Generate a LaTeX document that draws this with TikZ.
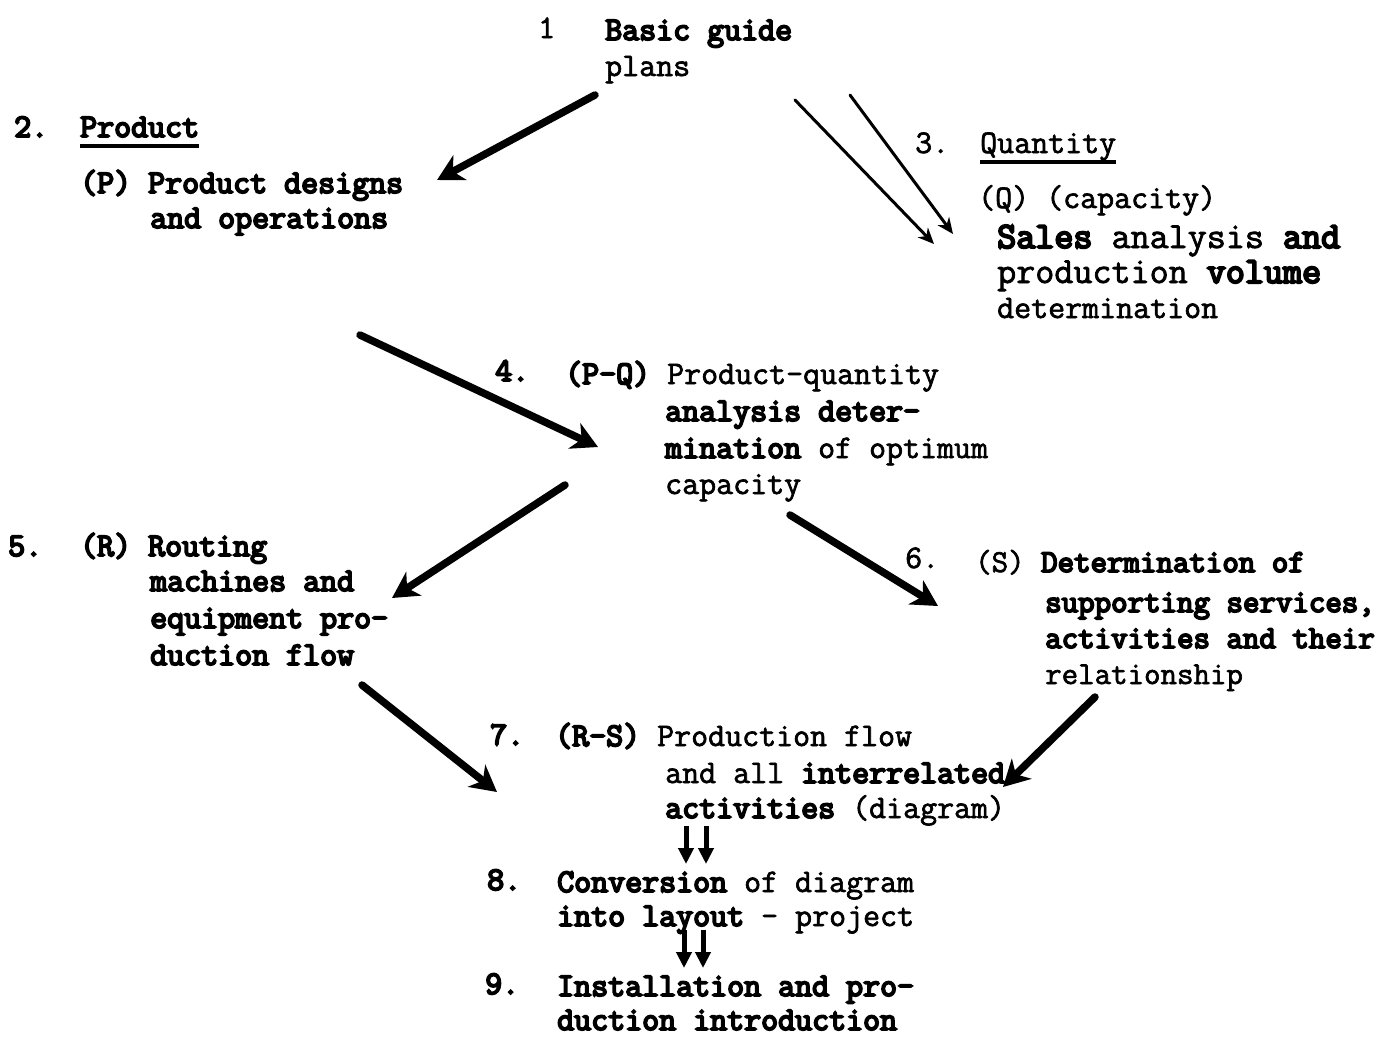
\documentclass[tikz,border=0pt]{standalone}
\usepackage{fontspec}
\newfontfamily\twbold{Latin Modern Mono}[FakeBold=5.5]
\newfontfamily\twreg{Latin Modern Mono}[FakeBold=2]
\usetikzlibrary{arrows.meta}
\begin{document}
\begin{tikzpicture}[x=1pt,y=-1pt,
  txt/.style={anchor=base west,inner sep=0pt,font=\fontsize{33}{36}\selectfont\twbold},
  txtr/.style={anchor=base west,inner sep=0pt,font=\fontsize{33}{36}\selectfont\twreg},
  txtw/.style={anchor=base west,inner sep=0pt,font=\fontsize{37}{36}\selectfont\twbold},
  txtn/.style={anchor=base west,inner sep=0pt,font=\fontsize{32}{36}\selectfont\twbold},
  heavy/.style={line width=7.5pt,line cap=round,-{Stealth[length=26pt,width=28pt,inset=8pt]}},
  light/.style={line width=3pt,line cap=round,-{Stealth[length=16pt,width=14pt,inset=5pt]}},
  dbl/.style={line width=5pt,-{Triangle[length=16pt,width=15pt]}},
  uline/.style={line width=3.5pt}]
\useasboundingbox (0,0) rectangle (1385,1037);
\fill[white] (0,0) rectangle (1385,1037);

% 1
\node[txtr] (n1num) at (538,38) {1};
\node[txt] (n1a) at (605,40) {Basic guide};
\node[txtr] (n1b) at (605,76) {plans};

% 2
\node[txt] (n2num) at (14,137) {2.};
\node[txt] (n2h) at (80,137) {Product};
\draw[uline] ([yshift=-9pt]n2h.base west) -- ([yshift=-9pt]n2h.base east);
\node[txt] (n2a) at (80,193) {(P) Product designs};
\node[txt] (n2b) at (150,228) {and operations};

% 3
\node[txtr] (n3num) at (915,153) {3.};
\node[txtr] (n3h) at (980,153) {Quantity};
\draw[uline] ([yshift=-9pt]n3h.base west) -- ([yshift=-9pt]n3h.base east);
\node[txtr] (n3a) at (978,208) {(Q) (capacity)};
\node[txtw] (n3b) at (997,248) {Sales {\twreg analysis} and};
\node[txtw] (n3c) at (997,283) {{\twreg production} volume};
\node[txtr] (n3d) at (997,318) {determination};

% 4
\node[txt] (n4num) at (495,381) {4.};
\node[txt] (n4a) at (565,384) {(P-Q) {\twreg Product-quantity}};
\node[txt] (n4b) at (665,421) {analysis  deter-};
\node[txt] (n4c) at (665,458) {mination {\twreg of optimum}};
\node[txtr] (n4d) at (665,494) {capacity};

% 5
\node[txt] (n5num) at (8,556) {5.};
\node[txt] (n5a) at (80,556) {(R) Routing};
\node[txt] (n5b) at (150,591) {machines and};
\node[txt] (n5c) at (150,628) {equipment  pro-};
\node[txt] (n5d) at (150,665) {duction flow};

% 6
\node[txtr] (n6num) at (905,568) {6.};
\node[txtn] (n6a) at (975,572) {{\twreg (S)} Determination of};
\node[txtn] (n6b) at (1045,612) {supporting services,};
\node[txtn] (n6c) at (1045,648) {activities and their};
\node[txtr,font=\fontsize{32}{36}\selectfont\twreg] (n6d) at (1045,684) {relationship};

% 7
\node[txt] (n7num) at (490,745) {7.};
\node[txt] (n7a) at (555,746) {(R-S) {\twreg Production flow}};
\node[txt] (n7b) at (665,783) {{\twreg and all} interrelated};
\node[txt] (n7c) at (665,818) {activities {\twreg (diagram)}};

% 8
\node[txt] (n8num) at (487,890) {8.};
\node[txt] (n8a) at (557,892) {Conversion {\twreg of diagram}};
\node[txt] (n8b) at (557,926) {into layout {\twreg - project}};

% 9
\node[txt] (n9num) at (485,994) {9.};
\node[txt] (n9a) at (557,996) {Installation and pro-};
\node[txt] (n9b) at (557,1030) {duction introduction};

% connector end points
\coordinate (a12s) at (595,95);  \coordinate (a12e) at (437,180);
\coordinate (a13s) at (795,100); \coordinate (a13e) at (934,244);
\coordinate (b13s) at (850,95);  \coordinate (b13e) at (953,234);
\coordinate (a24s) at (360,335); \coordinate (a24e) at (598,447);
\coordinate (a45s) at (565,485); \coordinate (a45e) at (392,598);
\coordinate (a46s) at (790,515); \coordinate (a46e) at (938,606);
\coordinate (a57s) at (362,685); \coordinate (a57e) at (497,792);
\coordinate (a67s) at (1095,697);\coordinate (a67e) at (1003,787);
\coordinate (a78s) at (686,826); \coordinate (a78e) at (686,864);
\coordinate (b78s) at (706,826); \coordinate (b78e) at (706,864);
\coordinate (a89s) at (684,930); \coordinate (a89e) at (684,968);
\coordinate (b89s) at (703,930); \coordinate (b89e) at (703,968);

\draw[heavy] (a12s) -- (a12e);
\draw[light] (a13s) -- (a13e);
\draw[light] (b13s) -- (b13e);
\draw[heavy] (a24s) -- (a24e);
\draw[heavy] (a45s) -- (a45e);
\draw[heavy] (a46s) -- (a46e);
\draw[heavy] (a57s) -- (a57e);
\draw[heavy] (a67s) -- (a67e);
\draw[dbl] (a78s) -- (a78e);
\draw[dbl] (b78s) -- (b78e);
\draw[dbl] (a89s) -- (a89e);
\draw[dbl] (b89s) -- (b89e);
\end{tikzpicture}
\end{document}
